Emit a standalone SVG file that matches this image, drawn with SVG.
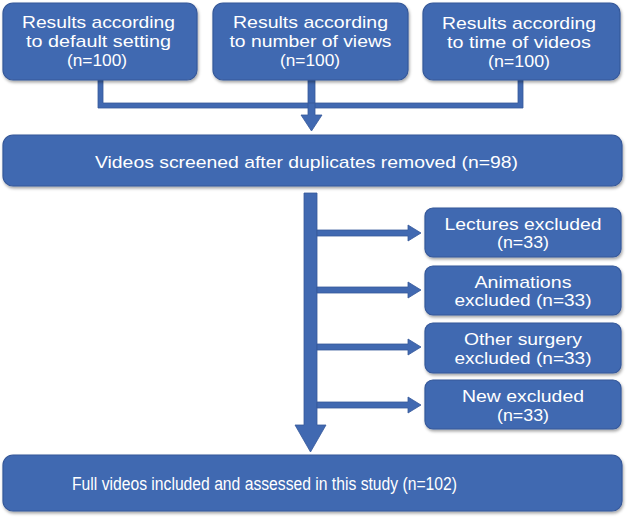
<svg xmlns="http://www.w3.org/2000/svg" width="627" height="518" viewBox="0 0 627 518">
<defs>
<filter id="sh" x="-5%" y="-5%" width="110%" height="120%"><feDropShadow dx="1" dy="2" stdDeviation="1.5" flood-color="#000" flood-opacity="0.35"/></filter>
</defs>
<style>
.box{fill:#4169B1;stroke:#35589A;stroke-width:1.2;filter:url(#sh)}
.t{fill:#fff;font-family:"Liberation Sans",Arial,sans-serif;font-size:17px;text-anchor:middle}
.l{font-size:18px}
.c{fill:#4169B1;stroke:#35589A;stroke-width:0.8}
</style>
<rect width="627" height="518" fill="#fff"/>
<g id="connectors">
<path class="c" d="M98,80 V108 H523 V80 H518 V103 H315 V80 H308 V103 H103 V80 Z"/>
<path class="c" d="M308,103 H315 V115 H322 L311.5,131 L301,115 H308 Z"/>
<path class="c" d="M304,193 H317 V425 H326 L310.5,452 L295,425 H304 Z"/>
<path class="c" d="M317,230 H408 V225 L421,233 L408,241 V236 H317 Z"/>
<path class="c" d="M317,287 H408 V282 L421,290 L408,298 V293 H317 Z"/>
<path class="c" d="M317,344 H408 V339 L421,347 L408,355 V350 H317 Z"/>
<path class="c" d="M317,402 H408 V397 L421,405 L408,413 V408 H317 Z"/>
</g>
<g id="n1"><rect class="box" x="3" y="3" width="194" height="77" rx="10"/>
<text class="t" x="98.5" y="28" textLength="153" lengthAdjust="spacingAndGlyphs">Results according</text><text class="t" x="98.5" y="47" textLength="145" lengthAdjust="spacingAndGlyphs">to default setting</text><text class="t" x="97" y="66" textLength="60" lengthAdjust="spacingAndGlyphs">(n=100)</text></g>
<g id="n2"><rect class="box" x="213" y="3" width="195" height="77" rx="10"/>
<text class="t" x="310.5" y="28" textLength="155" lengthAdjust="spacingAndGlyphs">Results according</text><text class="t" x="310.5" y="47" textLength="162" lengthAdjust="spacingAndGlyphs">to number of views</text><text class="t" x="310" y="66" textLength="60" lengthAdjust="spacingAndGlyphs">(n=100)</text></g>
<g id="n3"><rect class="box" x="423" y="3" width="197" height="77" rx="10"/>
<text class="t" x="519" y="29" textLength="154" lengthAdjust="spacingAndGlyphs">Results according</text><text class="t" x="519" y="48" textLength="144" lengthAdjust="spacingAndGlyphs">to time of videos</text><text class="t" x="519" y="67" textLength="62" lengthAdjust="spacingAndGlyphs">(n=100)</text></g>
<g id="n4"><rect class="box" x="3" y="135" width="619" height="51" rx="10"/>
<text class="t" x="306.5" y="168" textLength="423" lengthAdjust="spacingAndGlyphs">Videos screened after duplicates removed (n=98)</text></g>
<g id="n5"><rect class="box" x="425" y="208" width="196" height="49" rx="8"/>
<text class="t" x="523" y="230" textLength="157" lengthAdjust="spacingAndGlyphs">Lectures excluded</text><text class="t" x="523" y="248" textLength="52" lengthAdjust="spacingAndGlyphs">(n=33)</text></g>
<g id="n6"><rect class="box" x="425" y="266" width="196" height="49" rx="8"/>
<text class="t" x="523" y="288" textLength="97" lengthAdjust="spacingAndGlyphs">Animations</text><text class="t" x="523" y="306" textLength="137" lengthAdjust="spacingAndGlyphs">excluded (n=33)</text></g>
<g id="n7"><rect class="box" x="425" y="323" width="196" height="50" rx="8"/>
<text class="t" x="523" y="345" textLength="118" lengthAdjust="spacingAndGlyphs">Other surgery</text><text class="t" x="523" y="364" textLength="137" lengthAdjust="spacingAndGlyphs">excluded (n=33)</text></g>
<g id="n8"><rect class="box" x="425" y="380" width="196" height="49" rx="8"/>
<text class="t" x="523" y="402" textLength="122" lengthAdjust="spacingAndGlyphs">New excluded</text><text class="t" x="523" y="421" textLength="52" lengthAdjust="spacingAndGlyphs">(n=33)</text></g>
<g id="n9"><rect class="box" x="3" y="455" width="619" height="56" rx="10"/>
<text class="t l" x="264.5" y="490" textLength="385" lengthAdjust="spacingAndGlyphs">Full videos included and assessed in this study (n=102)</text></g>
</svg>
